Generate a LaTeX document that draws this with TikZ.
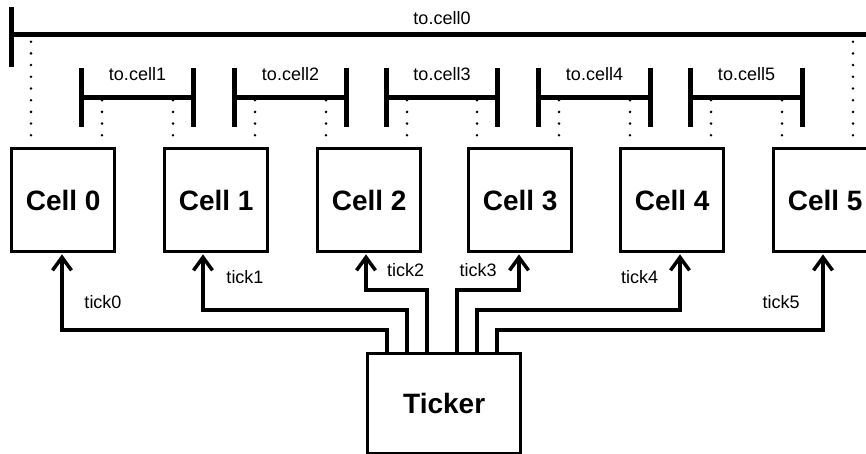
\documentclass[tikz,border=0pt]{standalone}
\usepackage{fontspec}
\setmainfont{Liberation Sans}
\usetikzlibrary{arrows.meta,calc}
\begin{document}
\begin{tikzpicture}[x=1pt,y=-1pt,
  cellbox/.style={draw,line width=3.4pt,minimum width=103pt,minimum height=103pt,inner sep=0pt,anchor=north west,font=\bfseries\fontsize{28}{30}\selectfont},
  tickerbox/.style={draw,line width=3.4pt,minimum width=153pt,minimum height=100pt,inner sep=0pt,anchor=north west,font=\bfseries\fontsize{28}{30}\selectfont},
  conn/.style={line width=3.5pt,-{Straight Barb[length=13pt,width=19pt,line width=3.5pt]}},
  barline/.style={line width=5pt},
  dotmark/.style={fill=black},
  lbl/.style={font=\fontsize{18}{20}\selectfont,inner sep=0pt}]
\clip (0,0) rectangle (866,454);
\fill[white] (0,0) rectangle (866,454);
% cells
\node[cellbox] (c0) at (10,147) {Cell 0};
\node[cellbox] (c1) at (163,147) {Cell 1};
\node[cellbox] (c2) at (316,147) {Cell 2};
\node[cellbox] (c3) at (467,147) {Cell 3};
\node[cellbox] (c4) at (619,147) {Cell 4};
\node[cellbox] (c5) at (772,147) {Cell 5};
\node[tickerbox] (tk) at (366,352) {Ticker};
% top bar to.cell0
\draw[barline] (11,7) -- (11,67);
\draw[barline] (873,7) -- (873,67);
\draw[barline] (11,35) -- (873,35);
\node[lbl] (l0) at (442,18) {to.cell0};
\coordinate (dt0) at ($(c0.north west)+(21,0)$);
\coordinate (dt5) at ($(c5.north west)+(81,0)$);
\foreach \n in {1,...,9}{
  \fill[dotmark] ($(dt0)+(0,-11.7*\n)$) circle[radius=1.4pt];
  \fill[dotmark] ($(dt5)+(0,-11.7*\n)$) circle[radius=1.4pt];
}
% small bars
\foreach \k/\a/\b/\pa/\pb in {1/c0/c1/92/10, 2/c1/c2/92/10, 3/c2/c3/91/10, 4/c3/c4/92/11, 5/c4/c5/92/10}{
  \coordinate (dl\k) at ($(\a.north west)+(\pa,0)$);
  \coordinate (dr\k) at ($(\b.north west)+(\pb,0)$);
  \foreach \n in {1,...,4}{
    \fill[dotmark] ($(dl\k)+(0,-11.7*\n)$) circle[radius=1.4pt];
    \fill[dotmark] ($(dr\k)+(0,-11.7*\n)$) circle[radius=1.4pt];
  }
  \draw[barline] ($(dl\k)+(-21,-79)$) -- ($(dl\k)+(-21,-20)$);
  \draw[barline] ($(dr\k)+(20,-79)$) -- ($(dr\k)+(20,-20)$);
  \draw[barline] ($(dl\k)+(-21,-49.5)$) -- ($(dr\k)+(20,-49.5)$);
  \node[lbl] (lb\k) at ($(dl\k)!0.5!(dr\k)+(0,-73)$) {to.cell\k};
}
% ticker outputs
\coordinate (t0) at ($(tk.north west)+(21,0)$);
\coordinate (t1) at ($(tk.north west)+(41,0)$);
\coordinate (t2) at ($(tk.north west)+(61,0)$);
\coordinate (t3) at ($(tk.north west)+(91,0)$);
\coordinate (t4) at ($(tk.north west)+(111,0)$);
\coordinate (t5) at ($(tk.north west)+(131,0)$);
\coordinate (a0) at ($(c0.south west)+(52,1)$);
\coordinate (a1) at ($(c1.south west)+(40,1)$);
\coordinate (a2) at ($(c2.south west)+(50,1)$);
\coordinate (a3) at ($(c3.south west)+(52,1)$);
\coordinate (a4) at ($(c4.south west)+(61,1)$);
\coordinate (a5) at ($(c5.south west)+(51,1)$);
\draw[conn] (t0) -- ++(0,-22) -| (a0);
\draw[conn] (t1) -- ++(0,-42) -| (a1);
\draw[conn] (t2) -- ++(0,-62) -| (a2);
\draw[conn] (t3) -- ++(0,-62) -| (a3);
\draw[conn] (t4) -- ++(0,-42) -| (a4);
\draw[conn] (t5) -- ++(0,-22) -| (a5);
\node[lbl] (k0) at (103,302) {tick0};
\node[lbl] (k1) at (245,277) {tick1};
\node[lbl] (k2) at (405.5,270) {tick2};
\node[lbl] (k3) at (478,270) {tick3};
\node[lbl] (k4) at (639.5,277) {tick4};
\node[lbl] (k5) at (781,302) {tick5};
\end{tikzpicture}
\end{document}
